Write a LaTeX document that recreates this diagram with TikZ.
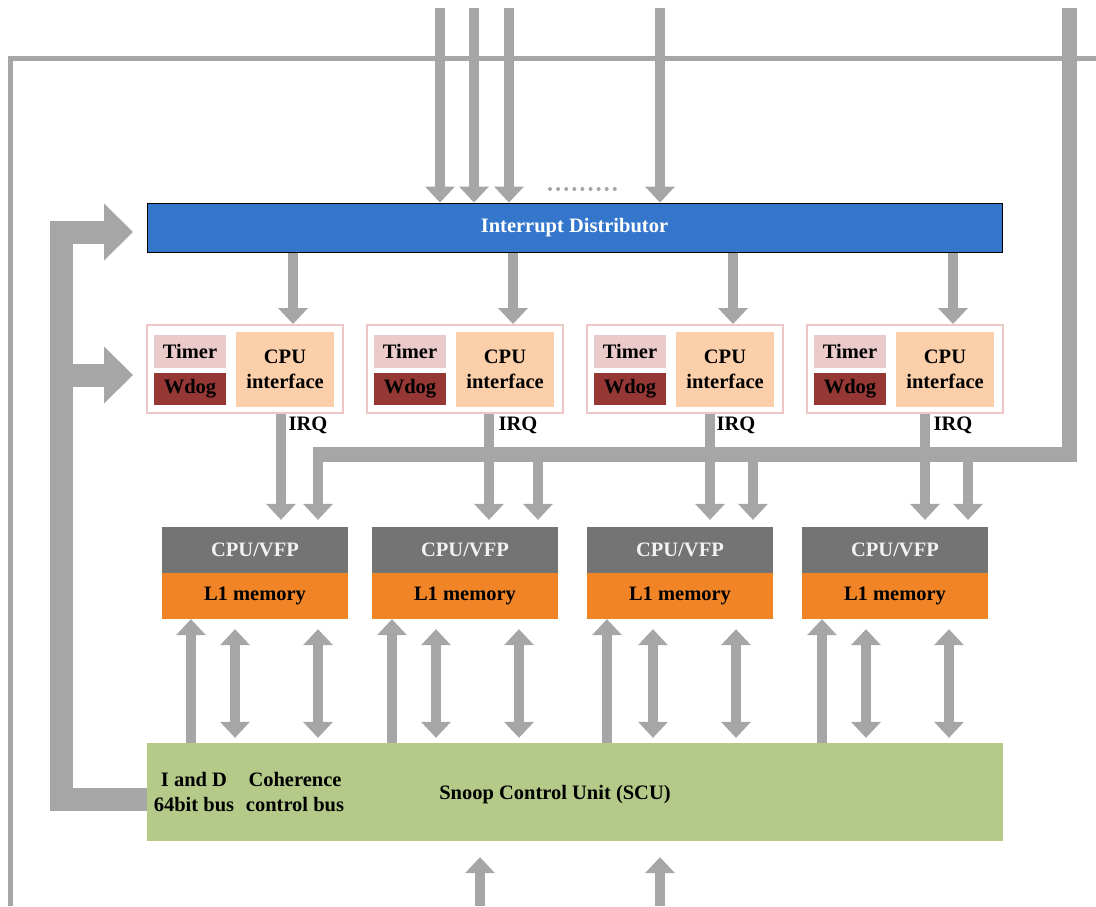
\documentclass[tikz,border=0pt]{standalone}
\usepackage{fontspec}
\setmainfont{Liberation Serif}
\usetikzlibrary{arrows.meta,calc}
\definecolor{arrowc}{HTML}{A6A6A6}
\definecolor{distc}{HTML}{3476CC}
\definecolor{timerc}{HTML}{EACACA}
\definecolor{wdogc}{HTML}{953735}
\definecolor{cifc}{HTML}{FBCFA9}
\definecolor{blkc}{HTML}{EDC6C6}
\definecolor{cpuc}{HTML}{747474}
\definecolor{cputxt}{HTML}{F2F2F2}
\definecolor{l1c}{HTML}{F08426}
\definecolor{scuc}{HTML}{B5CA88}
\tikzset{
  txt/.style={inner sep=0pt, align=center, font=\fontsize{20.5}{25}\selectfont\bfseries},
  distbox/.style={txt, draw=black, line width=1pt, fill=distc, text=white,
                  minimum width=855pt, minimum height=49pt},
  blkbox/.style={draw=blkc, line width=2pt, fill=white, inner sep=0pt,
                 minimum width=196pt, minimum height=88pt},
  timerbox/.style={txt, fill=timerc, minimum width=72pt, minimum height=33pt},
  wdogbox/.style={txt, fill=wdogc, minimum width=72pt, minimum height=32pt},
  cifbox/.style={txt, fill=cifc, minimum width=98pt, minimum height=75pt},
  cpubox/.style={txt, fill=cpuc, text=cputxt, minimum width=186pt, minimum height=46pt},
  l1box/.style={txt, fill=l1c, minimum width=186pt, minimum height=46pt},
  scubox/.style={fill=scuc, inner sep=0pt, minimum width=856pt, minimum height=98pt},
  bordline/.style={draw=arrowc, line width=5pt},
  arr/.style={draw=arrowc, line width=10.5pt, -{Triangle[width=30pt,length=16pt,line width=0pt]}},
  dblarr/.style={draw=arrowc, line width=10.5pt,
                 {Triangle[width=30pt,length=16pt,line width=0pt]}-{Triangle[width=30pt,length=16pt,line width=0pt]}},
  bus/.style={draw=arrowc, line width=15pt},
  fbarr/.style={draw=arrowc, line width=23pt, -{Triangle[width=57pt,length=29pt,line width=0pt]}},
}

\begin{document}
\begin{tikzpicture}[x=1pt, y=-1pt]
  \useasboundingbox (0,0) rectangle (1096,906);

  % outer line and interrupt inputs
  \coordinate (frmbl) at (10,906);
  \coordinate (frmtr) at (1096,58);
  \draw[bordline] (frmbl) |- (frmtr);

  \node[distbox] (dist) at (574.5,227.5) {Interrupt Distributor};

  \foreach \i/\x in {1/440, 2/474, 3/509, 4/660}{
    \coordinate (in\i) at (\x,8);
    \draw[arr] (in\i) -- (in\i |- dist.north);
  }
  \foreach \k in {0,...,8}
    \fill[arrowc] (550+8.1*\k,189) circle (2pt);

  \node[scubox] (scu) at (575,792) {};
  \node[txt] (iandd) at (194,792) {I and D\\64bit bus};
  \node[txt] (cohbus) at (295,792) {Coherence\\control bus};
  \node[txt] (scutxt) at (555,795) {Snoop Control Unit (SCU)};

  % per-CPU blocks
  \foreach \i/\bx/\cx in {0/147/162, 1/367/372, 2/587/587, 3/807/802}{
    \node[blkbox] (blk\i) at (\bx+98,369) {};
    \node[timerbox] (timer\i) at (\bx+43,351.5) {Timer};
    \node[wdogbox] (wdog\i) at (\bx+43,389) {Wdog};
    \node[cifbox] (cif\i) at (\bx+138,369.5) {CPU\\interface};
    \node[cpubox] (cpu\i) at (\cx+93,550) {CPU/VFP};
    \node[l1box] (lmem\i) at (\cx+93,596) {L1 memory};
    \coordinate (dd\i) at (\bx+146,0);
    \draw[arr] (dist.south -| dd\i) -- (blk\i.north -| dd\i);
  }

  % IRQ lines and the shared bus
  \foreach \i/\xa/\xb/\xl in {0/281/318/308, 1/489/538/518, 2/710/753/736, 3/925/968/953}{
    \coordinate (qa\i) at (\xa,0);
    \coordinate (qb\i) at (\xb,454);
    \draw[arr, shorten >=7pt] (blk\i.south -| qa\i) -- (cpu\i.north -| qa\i);
    \draw[arr, shorten >=7pt] (qb\i) -- (cpu\i.north -| qb\i);
    \node[txt] (irq\i) at (\xl,425) {IRQ};
  }
  \coordinate (bustop) at (1069,8);
  \draw[bus] (bustop) |- ([xshift=-5pt]qb0);

  % SCU to L1 memory
  \foreach \i/\u/\da/\db in {0/191/235/318, 1/392/436/519, 2/607/653/736, 3/822/866/949}{
    \coordinate (up\i) at (\u,0);
    \coordinate (da\i) at (\da,0);
    \coordinate (db\i) at (\db,0);
    \draw[arr] (scu.north -| up\i) -- (lmem\i.south -| up\i);
    \draw[dblarr, shorten <=10pt, shorten >=5pt] (lmem\i.south -| da\i) -- (scu.north -| da\i);
    \draw[dblarr, shorten <=10pt, shorten >=5pt] (lmem\i.south -| db\i) -- (scu.north -| db\i);
  }

  \foreach \i/\x in {1/480, 2/660}{
    \coordinate (bin\i) at (\x,906);
    \draw[arr, shorten >=16pt] (bin\i) -- (bin\i |- scu.south);
  }

  % feedback to distributor and timers
  \coordinate (fbx) at (61,0);
  \coordinate (fbtop) at (133,232);
  \coordinate (fbmid) at (133,375);
  \draw[fbarr] ([yshift=-7pt]scu.west) -| (fbx |- fbtop) -- (fbtop);
  \draw[fbarr] (fbx |- fbmid) -- (fbmid);
\end{tikzpicture}
\end{document}
